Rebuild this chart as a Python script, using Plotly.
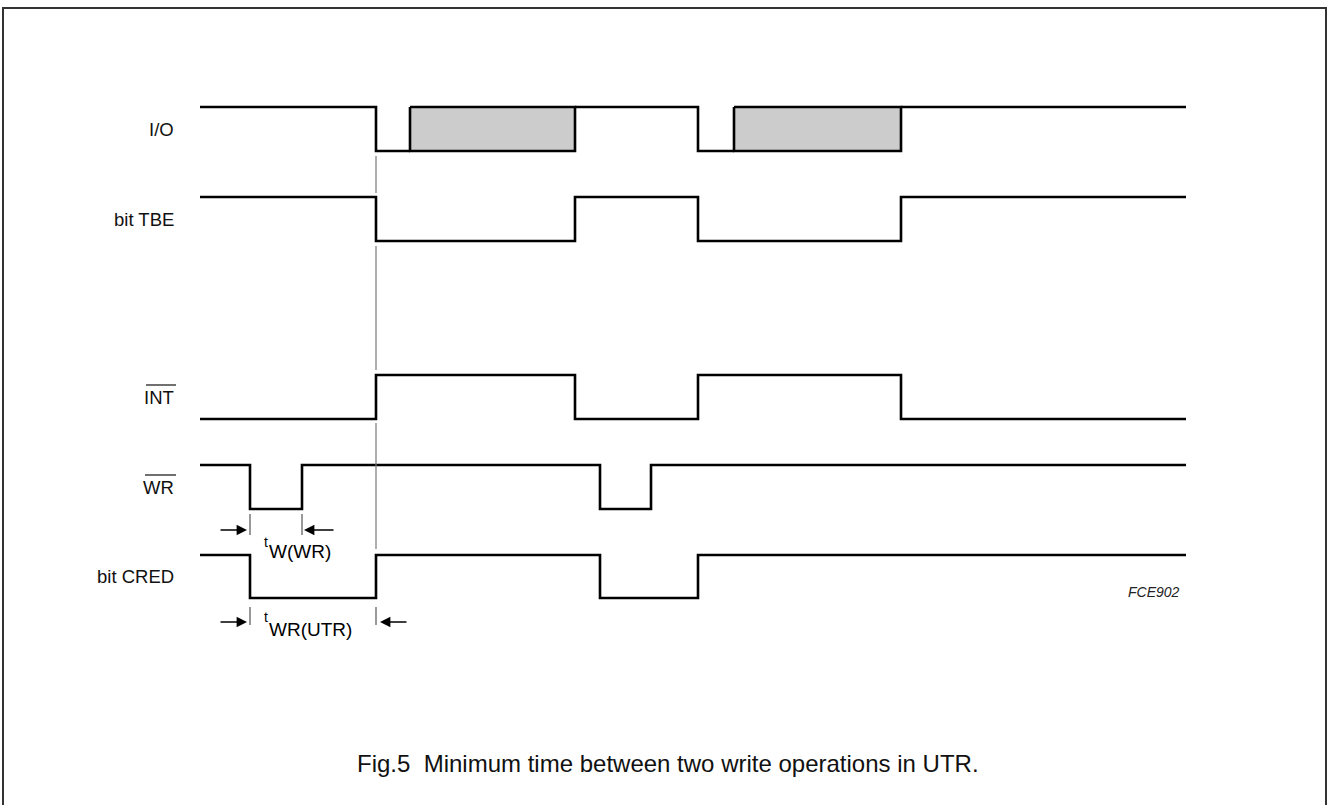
import plotly.graph_objects as go

# ---------------- data ----------------
signal_names = ["I/O", "bit TBE", "INT", "WR", "bit CRED"]
overlined = [False, False, True, True, False]

# transition times (horizontal units) and the state held in each interval
io_times = [200, 376, 410, 575, 698, 734, 901, 1186]
io_states = ["1", "0", "D", "1", "0", "D", "1"]

tbe_times = [200, 376, 575, 698, 901, 1186]
tbe_states = ["1", "0", "1", "0", "1"]

int_times = [200, 376, 575, 698, 901, 1186]
int_states = ["0", "1", "0", "1", "0"]

wr_times = [200, 250, 302, 600, 651, 1186]
wr_states = ["1", "0", "1", "0", "1"]

cred_times = [200, 250, 376, 600, 698, 1186]
cred_states = ["1", "0", "1", "0", "1"]

marker_time = 376          # thin reference line
tw_wr = [250, 302]         # t W(WR) interval
twr_utr = [250, 376]       # t WR(UTR) interval

caption = "Fig.5  Minimum time between two write operations in UTR."
figure_code = "FCE902"

# ---------------- layout constants ----------------
W, H = 1329, 805
lane_high = [107, 197, 375, 465, 555]
lane_low = [151, 241, 419, 509, 598]
label_right = 176
FONT = "Liberation Sans, Arial, Helvetica, sans-serif"
LW = 2.6

all_times = [io_times, tbe_times, int_times, wr_times, cred_times]
all_states = [io_states, tbe_states, int_states, wr_states, cred_states]

fig = go.Figure()

for k, (times, states) in enumerate(zip(all_times, all_states)):
    hi, lo = lane_high[k], lane_low[k]
    xs, ys = [], []
    for i, s in enumerate(states):
        a, b = times[i], times[i + 1]
        if s == "D":
            if xs:
                xs.append(None); ys.append(None)
            fig.add_trace(go.Scatter(
                x=[a, b, b, a, a], y=[hi, hi, lo, lo, hi], mode="lines",
                fill="toself", fillcolor="#cccccc",
                line=dict(color="black", width=LW), hoverinfo="skip",
                showlegend=False))
        else:
            lvl = hi if s == "1" else lo
            xs += [a, b]
            ys += [lvl, lvl]
    fig.add_trace(go.Scatter(x=xs, y=ys, mode="lines",
                             line=dict(color="black", width=LW),
                             hoverinfo="skip", showlegend=False, connectgaps=False))

# thin grey reference line at the marker time (with gaps at the signal lines)
seg = [(lane_low[0] + 5, lane_high[1] - 4),
       (lane_low[1] + 5, lane_high[2] - 5),
       (lane_low[2] + 4, lane_high[4] - 6)]
mx, my = [], []
for y0, y1 in seg:
    mx += [marker_time, marker_time, None]
    my += [y0, y1, None]
fig.add_trace(go.Scatter(x=mx, y=my, mode="lines",
                         line=dict(color="#777777", width=1.2),
                         hoverinfo="skip", showlegend=False))

# timing ticks
def tick(xv, y0, y1):
    fig.add_shape(type="line", x0=xv, x1=xv, y0=y0, y1=y1,
                  line=dict(color="#555555", width=1.2))

tick(tw_wr[0], 514, 535)
tick(tw_wr[1], 514, 535)
tick(twr_utr[0], 607, 625)
tick(twr_utr[1], 607, 625)

# arrows
def arrow(tip, tail, yv):
    fig.add_annotation(x=tip, y=yv, ax=tail, ay=yv, axref="x", ayref="y",
                       xref="x", yref="y", showarrow=True, text="",
                       arrowhead=2, arrowsize=1.6, arrowwidth=1.3,
                       arrowcolor="black")

arrow(tw_wr[0] - 3, tw_wr[0] - 31, 530)
arrow(tw_wr[1] + 2, tw_wr[1] + 33, 530)
arrow(twr_utr[0] - 3, twr_utr[0] - 31, 622)
arrow(twr_utr[1] + 4, twr_utr[1] + 32, 622)

# timing labels
def tlabel(x, y_t, y_main, main):
    fig.add_annotation(x=x, y=y_t, text="t", showarrow=False, xanchor="left",
                       yanchor="middle", font=dict(family=FONT, size=14, color="black"))
    fig.add_annotation(x=x + 5, y=y_main, text=main, showarrow=False, xanchor="left",
                       yanchor="middle", font=dict(family=FONT, size=19, color="black"))

tlabel(262, 542, 551, "W(WR)")
tlabel(262, 617, 629, "WR(UTR)")

# signal labels
for k, name in enumerate(signal_names):
    yc = (lane_high[k] + lane_low[k]) / 2
    fig.add_annotation(x=label_right, y=yc, text=name, showarrow=False,
                       xanchor="right", yanchor="middle",
                       font=dict(family=FONT, size=18.5, color="#111111"))
    if overlined[k]:
        w = 30 if name == "INT" else 31
        fig.add_shape(type="line", x0=label_right - w, x1=label_right,
                      y0=yc - 12, y1=yc - 12, line=dict(color="#111111", width=1.2))

fig.add_annotation(x=668, y=763, text=caption, showarrow=False,
                   xanchor="center", yanchor="middle",
                   font=dict(family=FONT, size=24, color="#111111"))

fig.add_annotation(x=1182, y=592, text="<i>" + figure_code + "</i>", showarrow=False,
                   xanchor="right", yanchor="middle",
                   font=dict(family=FONT, size=14, color="#222222"))

# outer frame
fig.add_shape(type="rect", x0=3, x1=1326, y0=8, y1=H + 20,
              line=dict(color="#333333", width=2))

fig.update_layout(
    width=W, height=H, margin=dict(l=0, r=0, t=0, b=0),
    paper_bgcolor="white", plot_bgcolor="white",
    xaxis=dict(range=[0, W], visible=False, fixedrange=True),
    yaxis=dict(range=[H, 0], visible=False, fixedrange=True),
    showlegend=False,
)

fig.write_html(
    "out.html",
    config={"displayModeBar": False, "staticPlot": True},
    post_script="document.body.style.margin='0px';document.body.style.overflow='hidden';",
)
